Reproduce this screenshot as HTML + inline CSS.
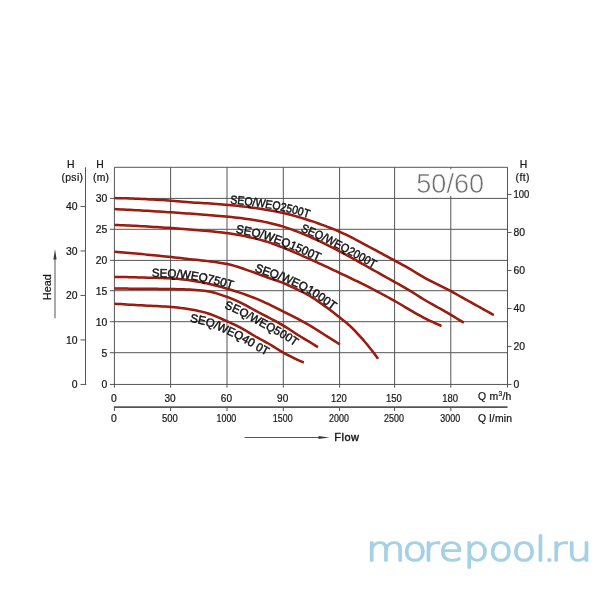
<!DOCTYPE html>
<html><head><meta charset="utf-8"><title>Pump curves 50/60</title>
<style>
html,body{margin:0;padding:0;background:#fff;}
body{width:600px;height:600px;overflow:hidden;}
svg{display:block;}
svg text{font-family:"Liberation Sans",sans-serif;}
svg text.wm{font-family:"DejaVu Sans Light","DejaVu Sans","Liberation Sans",sans-serif;font-weight:200;}
</style></head><body>
<svg width="600" height="600" viewBox="0 0 600 600">
<rect width="600" height="600" fill="#fff"/>
<g stroke="#555555" stroke-width="1" fill="none">
<line x1="114.40" y1="167.30" x2="114.40" y2="387.65"/>
<line x1="170.60" y1="167.30" x2="170.60" y2="387.65"/>
<line x1="227.00" y1="167.30" x2="227.00" y2="387.65"/>
<line x1="283.30" y1="167.30" x2="283.30" y2="387.65"/>
<line x1="339.60" y1="167.30" x2="339.60" y2="387.65"/>
<line x1="394.60" y1="167.30" x2="394.60" y2="387.65"/>
<line x1="450.80" y1="195.90" x2="450.80" y2="387.65"/>
<line x1="450.80" y1="167.30" x2="450.80" y2="169.30"/>
<line x1="507.50" y1="167.30" x2="507.50" y2="387.65"/>
<line x1="109.90" y1="384.45" x2="507.50" y2="384.45"/>
<line x1="109.90" y1="352.70" x2="507.50" y2="352.70"/>
<line x1="109.90" y1="321.70" x2="507.50" y2="321.70"/>
<line x1="109.90" y1="290.70" x2="507.50" y2="290.70"/>
<line x1="109.90" y1="260.40" x2="507.50" y2="260.40"/>
<line x1="109.90" y1="229.30" x2="507.50" y2="229.30"/>
<line x1="109.90" y1="198.40" x2="507.50" y2="198.40"/>
<line x1="114.40" y1="167.30" x2="507.50" y2="167.30"/>
<line x1="85.5" y1="167.3" x2="85.5" y2="384.45"/>
<line x1="80.5" y1="384.45" x2="86.3" y2="384.45"/>
<line x1="80.5" y1="339.95" x2="85.5" y2="339.95"/>
<line x1="80.5" y1="295.45" x2="85.5" y2="295.45"/>
<line x1="80.5" y1="250.95" x2="85.5" y2="250.95"/>
<line x1="80.5" y1="206.45" x2="85.5" y2="206.45"/>
<line x1="507.5" y1="384.45" x2="511.5" y2="384.45"/>
<line x1="507.5" y1="346.45" x2="511.5" y2="346.45"/>
<line x1="507.5" y1="308.45" x2="511.5" y2="308.45"/>
<line x1="507.5" y1="270.45" x2="511.5" y2="270.45"/>
<line x1="507.5" y1="232.45" x2="511.5" y2="232.45"/>
<line x1="507.5" y1="194.45" x2="511.5" y2="194.45"/>
<line x1="113.9" y1="407.1" x2="507.5" y2="407.1" stroke-width="1.7"/>
<line x1="114.40" y1="407.1" x2="114.40" y2="411.0"/>
<line x1="170.60" y1="407.1" x2="170.60" y2="411.0"/>
<line x1="227.00" y1="407.1" x2="227.00" y2="411.0"/>
<line x1="283.30" y1="407.1" x2="283.30" y2="411.0"/>
<line x1="339.60" y1="407.1" x2="339.60" y2="411.0"/>
<line x1="394.60" y1="407.1" x2="394.60" y2="411.0"/>
<line x1="450.80" y1="407.1" x2="450.80" y2="411.0"/>
<line x1="244.5" y1="437.5" x2="320" y2="437.5"/>
<line x1="55" y1="258" x2="55" y2="318.3"/>
</g>
<path d="M318.5,435.9 L329.5,437.5 L318.5,439.1 Z" fill="#3a3a3a"/>
<path d="M53.4,259.5 L55,249 L56.6,259.5 Z" fill="#3a3a3a"/>
<g stroke="#86150c" stroke-width="2.5" fill="none" stroke-linecap="butt" stroke-linejoin="round">
<path d="M114.5,198.10 L117.5,198.13 L120.5,198.18 L123.5,198.25 L126.5,198.33 L129.5,198.42 L132.5,198.52 L135.5,198.64 L138.5,198.77 L141.5,198.91 L144.5,199.06 L147.5,199.21 L150.5,199.38 L153.5,199.55 L156.5,199.72 L159.5,199.90 L162.5,200.09 L165.5,200.28 L168.5,200.47 L171.5,200.66 L174.5,200.91 L177.5,201.19 L180.5,201.49 L183.5,201.77 L186.5,202.02 L189.5,202.24 L192.5,202.45 L195.5,202.64 L198.5,202.83 L201.5,203.01 L204.5,203.19 L207.5,203.37 L210.5,203.56 L213.5,203.75 L216.5,203.95 L219.5,204.16 L222.5,204.38 L225.5,204.63 L228.5,204.89 L231.5,205.18 L234.5,205.48 L237.5,205.81 L240.5,206.15 L243.5,206.51 L246.5,206.88 L249.5,207.28 L252.5,207.68 L255.5,208.10 L258.5,208.53 L261.5,208.97 L264.5,209.45 L267.5,209.94 L270.5,210.47 L273.5,211.03 L276.5,211.61 L279.5,212.22 L282.5,212.87 L285.5,213.55 L288.5,214.28 L291.5,215.06 L294.5,215.88 L297.5,216.74 L300.5,217.62 L303.5,218.54 L306.5,219.48 L309.5,220.44 L312.5,221.42 L315.5,222.43 L318.5,223.48 L321.5,224.56 L324.5,225.67 L327.5,226.82 L330.5,228.00 L333.5,229.21 L336.5,230.46 L339.5,231.74 L342.5,233.08 L345.5,234.48 L348.5,235.95 L351.5,237.46 L354.5,239.00 L357.5,240.58 L360.5,242.18 L363.5,243.79 L366.5,245.40 L369.5,247.01 L372.5,248.60 L375.5,250.19 L378.5,251.79 L381.5,253.41 L384.5,255.04 L387.5,256.68 L390.5,258.32 L393.5,259.95 L396.5,261.58 L399.5,263.20 L402.5,264.82 L405.5,266.46 L408.5,268.14 L411.5,269.88 L414.5,271.73 L417.5,273.61 L420.5,275.44 L423.5,277.16 L426.5,278.78 L429.5,280.35 L432.5,281.87 L435.5,283.36 L438.5,284.84 L441.5,286.33 L444.5,287.82 L447.5,289.36 L450.5,290.94 L453.5,292.58 L456.5,294.28 L459.5,295.97 L462.5,297.64 L465.5,299.32 L468.5,300.99 L471.5,302.66 L474.5,304.33 L477.5,306.00 L480.5,307.66 L483.5,309.33 L486.5,310.99 L489.5,312.65 L492.5,314.31 L493.8,315.00" id="c2500"/>
<path d="M114.5,209.10 L117.5,209.24 L120.5,209.39 L123.5,209.54 L126.5,209.70 L129.5,209.86 L132.5,210.02 L135.5,210.18 L138.5,210.35 L141.5,210.52 L144.5,210.70 L147.5,210.87 L150.5,211.05 L153.5,211.23 L156.5,211.42 L159.5,211.60 L162.5,211.79 L165.5,211.98 L168.5,212.17 L171.5,212.36 L174.5,212.56 L177.5,212.76 L180.5,212.97 L183.5,213.19 L186.5,213.41 L189.5,213.62 L192.5,213.84 L195.5,214.05 L198.5,214.27 L201.5,214.48 L204.5,214.70 L207.5,214.93 L210.5,215.16 L213.5,215.40 L216.5,215.65 L219.5,215.90 L222.5,216.18 L225.5,216.46 L228.5,216.76 L231.5,217.08 L234.5,217.41 L237.5,217.75 L240.5,218.11 L243.5,218.50 L246.5,218.90 L249.5,219.32 L252.5,219.77 L255.5,220.24 L258.5,220.74 L261.5,221.27 L264.5,221.86 L267.5,222.50 L270.5,223.20 L273.5,223.94 L276.5,224.73 L279.5,225.56 L282.5,226.42 L285.5,227.34 L288.5,228.33 L291.5,229.39 L294.5,230.51 L297.5,231.68 L300.5,232.89 L303.5,234.14 L306.5,235.40 L309.5,236.69 L312.5,237.99 L315.5,239.34 L318.5,240.74 L321.5,242.18 L324.5,243.64 L327.5,245.14 L330.5,246.66 L333.5,248.20 L336.5,249.75 L339.5,251.30 L342.5,252.88 L345.5,254.48 L348.5,256.12 L351.5,257.78 L354.5,259.45 L357.5,261.14 L360.5,262.84 L363.5,264.53 L366.5,266.23 L369.5,267.92 L372.5,269.60 L375.5,271.27 L378.5,272.94 L381.5,274.62 L384.5,276.29 L387.5,277.97 L390.5,279.65 L393.5,281.34 L396.5,283.02 L399.5,284.69 L402.5,286.37 L405.5,288.07 L408.5,289.81 L411.5,291.61 L414.5,293.51 L417.5,295.45 L420.5,297.37 L423.5,299.20 L426.5,300.97 L429.5,302.71 L432.5,304.41 L435.5,306.10 L438.5,307.78 L441.5,309.46 L444.5,311.15 L447.5,312.87 L450.5,314.62 L453.5,316.41 L456.5,318.23 L459.5,320.07 L462.5,321.92 L463.8,322.70" id="c2000"/>
<path d="M114.5,225.00 L117.5,225.09 L120.5,225.20 L123.5,225.31 L126.5,225.44 L129.5,225.57 L132.5,225.71 L135.5,225.86 L138.5,226.01 L141.5,226.17 L144.5,226.34 L147.5,226.52 L150.5,226.69 L153.5,226.88 L156.5,227.07 L159.5,227.26 L162.5,227.46 L165.5,227.66 L168.5,227.86 L171.5,228.06 L174.5,228.29 L177.5,228.54 L180.5,228.80 L183.5,229.07 L186.5,229.33 L189.5,229.58 L192.5,229.83 L195.5,230.07 L198.5,230.31 L201.5,230.56 L204.5,230.81 L207.5,231.07 L210.5,231.33 L213.5,231.61 L216.5,231.91 L219.5,232.23 L222.5,232.56 L225.5,232.92 L228.5,233.31 L231.5,233.75 L234.5,234.22 L237.5,234.74 L240.5,235.29 L243.5,235.88 L246.5,236.51 L249.5,237.17 L252.5,237.86 L255.5,238.58 L258.5,239.32 L261.5,240.10 L264.5,240.96 L267.5,241.91 L270.5,242.92 L273.5,243.99 L276.5,245.10 L279.5,246.23 L282.5,247.37 L285.5,248.53 L288.5,249.74 L291.5,250.99 L294.5,252.28 L297.5,253.60 L300.5,254.93 L303.5,256.28 L306.5,257.63 L309.5,258.98 L312.5,260.32 L315.5,261.67 L318.5,263.04 L321.5,264.41 L324.5,265.80 L327.5,267.19 L330.5,268.60 L333.5,270.01 L336.5,271.42 L339.5,272.85 L342.5,274.27 L345.5,275.70 L348.5,277.14 L351.5,278.58 L354.5,280.03 L357.5,281.49 L360.5,282.96 L363.5,284.45 L366.5,285.95 L369.5,287.46 L372.5,289.00 L375.5,290.56 L378.5,292.15 L381.5,293.75 L384.5,295.38 L387.5,297.02 L390.5,298.68 L393.5,300.34 L396.5,302.03 L399.5,303.76 L402.5,305.52 L405.5,307.30 L408.5,309.09 L411.5,310.86 L414.5,312.60 L417.5,314.30 L420.5,315.95 L423.5,317.52 L426.5,319.03 L429.5,320.51 L432.5,321.95 L435.5,323.35 L438.5,324.72 L441.4,326.00" id="c1500"/>
<path d="M114.5,251.70 L117.5,251.95 L120.5,252.20 L123.5,252.46 L126.5,252.72 L129.5,252.98 L132.5,253.25 L135.5,253.53 L138.5,253.81 L141.5,254.09 L144.5,254.38 L147.5,254.67 L150.5,254.96 L153.5,255.26 L156.5,255.56 L159.5,255.86 L162.5,256.17 L165.5,256.47 L168.5,256.78 L171.5,257.09 L174.5,257.41 L177.5,257.74 L180.5,258.08 L183.5,258.42 L186.5,258.77 L189.5,259.12 L192.5,259.45 L195.5,259.77 L198.5,260.10 L201.5,260.43 L204.5,260.76 L207.5,261.12 L210.5,261.48 L213.5,261.87 L216.5,262.29 L219.5,262.74 L222.5,263.22 L225.5,263.74 L228.5,264.32 L231.5,265.03 L234.5,265.86 L237.5,266.77 L240.5,267.75 L243.5,268.77 L246.5,269.81 L249.5,270.83 L252.5,271.87 L255.5,272.97 L258.5,274.10 L261.5,275.26 L264.5,276.39 L267.5,277.49 L270.5,278.52 L273.5,279.52 L276.5,280.52 L279.5,281.57 L282.5,282.70 L285.5,283.98 L288.5,285.42 L291.5,286.85 L294.5,288.23 L297.5,289.62 L300.5,291.03 L303.5,292.50 L306.5,294.07 L309.5,295.77 L312.5,297.61 L315.5,299.58 L318.5,301.64 L321.5,303.75 L324.5,305.89 L327.5,308.06 L330.5,310.31 L333.5,312.61 L336.5,314.95 L339.5,317.30 L342.5,319.64 L345.5,322.04 L348.5,324.65 L351.5,327.46 L354.5,330.44 L357.5,333.56 L360.5,336.80 L363.5,340.19 L366.5,343.75 L369.5,347.44 L372.5,351.25 L375.5,355.26 L378.0,358.75" id="c1000"/>
<path d="M114.5,276.90 L117.5,276.95 L120.5,277.00 L123.5,277.06 L126.5,277.12 L129.5,277.19 L132.5,277.26 L135.5,277.33 L138.5,277.40 L141.5,277.47 L144.5,277.55 L147.5,277.63 L150.5,277.70 L153.5,277.78 L156.5,277.87 L159.5,277.96 L162.5,278.06 L165.5,278.18 L168.5,278.30 L171.5,278.45 L174.5,278.63 L177.5,278.86 L180.5,279.14 L183.5,279.44 L186.5,279.77 L189.5,280.18 L192.5,280.64 L195.5,281.15 L198.5,281.71 L201.5,282.29 L204.5,282.90 L207.5,283.53 L210.5,284.22 L213.5,284.95 L216.5,285.73 L219.5,286.54 L222.5,287.38 L225.5,288.24 L228.5,289.12 L231.5,290.02 L234.5,290.95 L237.5,291.91 L240.5,292.91 L243.5,293.93 L246.5,295.00 L249.5,296.09 L252.5,297.23 L255.5,298.40 L258.5,299.63 L261.5,300.94 L264.5,302.30 L267.5,303.72 L270.5,305.16 L273.5,306.64 L276.5,308.13 L279.5,309.63 L282.5,311.13 L285.5,312.62 L288.5,314.11 L291.5,315.61 L294.5,317.14 L297.5,318.69 L300.5,320.27 L303.5,321.89 L306.5,323.55 L309.5,325.27 L312.5,327.07 L315.5,328.94 L318.5,330.85 L321.5,332.77 L324.5,334.68 L327.5,336.58 L330.5,338.48 L333.5,340.39 L336.5,342.31 L339.5,344.24 L339.8,344.40" id="c750"/>
<path d="M114.5,288.50 L117.5,288.53 L120.5,288.55 L123.5,288.58 L126.5,288.61 L129.5,288.63 L132.5,288.66 L135.5,288.69 L138.5,288.71 L141.5,288.74 L144.5,288.77 L147.5,288.79 L150.5,288.81 L153.5,288.83 L156.5,288.86 L159.5,288.88 L162.5,288.91 L165.5,288.94 L168.5,288.97 L171.5,289.01 L174.5,289.07 L177.5,289.15 L180.5,289.24 L183.5,289.34 L186.5,289.46 L189.5,289.60 L192.5,289.76 L195.5,289.95 L198.5,290.18 L201.5,290.44 L204.5,290.75 L207.5,291.15 L210.5,291.74 L213.5,292.49 L216.5,293.37 L219.5,294.33 L222.5,295.35 L225.5,296.38 L228.5,297.43 L231.5,298.59 L234.5,299.87 L237.5,301.22 L240.5,302.64 L243.5,304.09 L246.5,305.67 L249.5,307.33 L252.5,309.02 L255.5,310.67 L258.5,312.27 L261.5,313.83 L264.5,315.39 L267.5,316.94 L270.5,318.50 L273.5,320.08 L276.5,321.70 L279.5,323.35 L282.5,325.07 L285.5,326.88 L288.5,328.79 L291.5,330.77 L294.5,332.75 L297.5,334.69 L300.5,336.54 L303.5,338.36 L306.5,340.15 L309.5,341.94 L312.5,343.75 L315.5,345.57 L318.0,347.10" id="c500"/>
<path d="M114.5,303.75 L117.5,303.93 L120.5,304.12 L123.5,304.30 L126.5,304.48 L129.5,304.65 L132.5,304.83 L135.5,305.00 L138.5,305.17 L141.5,305.34 L144.5,305.51 L147.5,305.66 L150.5,305.80 L153.5,305.94 L156.5,306.08 L159.5,306.23 L162.5,306.38 L165.5,306.56 L168.5,306.75 L171.5,306.97 L174.5,307.24 L177.5,307.55 L180.5,307.90 L183.5,308.29 L186.5,308.72 L189.5,309.19 L192.5,309.71 L195.5,310.29 L198.5,310.92 L201.5,311.62 L204.5,312.37 L207.5,313.22 L210.5,314.23 L213.5,315.37 L216.5,316.61 L219.5,317.91 L222.5,319.25 L225.5,320.59 L228.5,321.91 L231.5,323.28 L234.5,324.69 L237.5,326.16 L240.5,327.69 L243.5,329.30 L246.5,331.04 L249.5,332.88 L252.5,334.72 L255.5,336.48 L258.5,338.15 L261.5,339.76 L264.5,341.38 L267.5,343.04 L270.5,344.79 L273.5,346.65 L276.5,348.55 L279.5,350.43 L282.5,352.20 L285.5,353.82 L288.5,355.40 L291.5,356.92 L294.5,358.39 L297.5,359.79 L300.5,361.13 L303.5,362.40 L303.8,362.50" id="c400"/>
</g>
<g stroke="#b8200f" stroke-width="1.0" fill="none" stroke-linecap="butt" stroke-linejoin="round">
<path d="M114.5,198.10 L117.5,198.13 L120.5,198.18 L123.5,198.25 L126.5,198.33 L129.5,198.42 L132.5,198.52 L135.5,198.64 L138.5,198.77 L141.5,198.91 L144.5,199.06 L147.5,199.21 L150.5,199.38 L153.5,199.55 L156.5,199.72 L159.5,199.90 L162.5,200.09 L165.5,200.28 L168.5,200.47 L171.5,200.66 L174.5,200.91 L177.5,201.19 L180.5,201.49 L183.5,201.77 L186.5,202.02 L189.5,202.24 L192.5,202.45 L195.5,202.64 L198.5,202.83 L201.5,203.01 L204.5,203.19 L207.5,203.37 L210.5,203.56 L213.5,203.75 L216.5,203.95 L219.5,204.16 L222.5,204.38 L225.5,204.63 L228.5,204.89 L231.5,205.18 L234.5,205.48 L237.5,205.81 L240.5,206.15 L243.5,206.51 L246.5,206.88 L249.5,207.28 L252.5,207.68 L255.5,208.10 L258.5,208.53 L261.5,208.97 L264.5,209.45 L267.5,209.94 L270.5,210.47 L273.5,211.03 L276.5,211.61 L279.5,212.22 L282.5,212.87 L285.5,213.55 L288.5,214.28 L291.5,215.06 L294.5,215.88 L297.5,216.74 L300.5,217.62 L303.5,218.54 L306.5,219.48 L309.5,220.44 L312.5,221.42 L315.5,222.43 L318.5,223.48 L321.5,224.56 L324.5,225.67 L327.5,226.82 L330.5,228.00 L333.5,229.21 L336.5,230.46 L339.5,231.74 L342.5,233.08 L345.5,234.48 L348.5,235.95 L351.5,237.46 L354.5,239.00 L357.5,240.58 L360.5,242.18 L363.5,243.79 L366.5,245.40 L369.5,247.01 L372.5,248.60 L375.5,250.19 L378.5,251.79 L381.5,253.41 L384.5,255.04 L387.5,256.68 L390.5,258.32 L393.5,259.95 L396.5,261.58 L399.5,263.20 L402.5,264.82 L405.5,266.46 L408.5,268.14 L411.5,269.88 L414.5,271.73 L417.5,273.61 L420.5,275.44 L423.5,277.16 L426.5,278.78 L429.5,280.35 L432.5,281.87 L435.5,283.36 L438.5,284.84 L441.5,286.33 L444.5,287.82 L447.5,289.36 L450.5,290.94 L453.5,292.58 L456.5,294.28 L459.5,295.97 L462.5,297.64 L465.5,299.32 L468.5,300.99 L471.5,302.66 L474.5,304.33 L477.5,306.00 L480.5,307.66 L483.5,309.33 L486.5,310.99 L489.5,312.65 L492.5,314.31 L493.8,315.00"/>
<path d="M114.5,209.10 L117.5,209.24 L120.5,209.39 L123.5,209.54 L126.5,209.70 L129.5,209.86 L132.5,210.02 L135.5,210.18 L138.5,210.35 L141.5,210.52 L144.5,210.70 L147.5,210.87 L150.5,211.05 L153.5,211.23 L156.5,211.42 L159.5,211.60 L162.5,211.79 L165.5,211.98 L168.5,212.17 L171.5,212.36 L174.5,212.56 L177.5,212.76 L180.5,212.97 L183.5,213.19 L186.5,213.41 L189.5,213.62 L192.5,213.84 L195.5,214.05 L198.5,214.27 L201.5,214.48 L204.5,214.70 L207.5,214.93 L210.5,215.16 L213.5,215.40 L216.5,215.65 L219.5,215.90 L222.5,216.18 L225.5,216.46 L228.5,216.76 L231.5,217.08 L234.5,217.41 L237.5,217.75 L240.5,218.11 L243.5,218.50 L246.5,218.90 L249.5,219.32 L252.5,219.77 L255.5,220.24 L258.5,220.74 L261.5,221.27 L264.5,221.86 L267.5,222.50 L270.5,223.20 L273.5,223.94 L276.5,224.73 L279.5,225.56 L282.5,226.42 L285.5,227.34 L288.5,228.33 L291.5,229.39 L294.5,230.51 L297.5,231.68 L300.5,232.89 L303.5,234.14 L306.5,235.40 L309.5,236.69 L312.5,237.99 L315.5,239.34 L318.5,240.74 L321.5,242.18 L324.5,243.64 L327.5,245.14 L330.5,246.66 L333.5,248.20 L336.5,249.75 L339.5,251.30 L342.5,252.88 L345.5,254.48 L348.5,256.12 L351.5,257.78 L354.5,259.45 L357.5,261.14 L360.5,262.84 L363.5,264.53 L366.5,266.23 L369.5,267.92 L372.5,269.60 L375.5,271.27 L378.5,272.94 L381.5,274.62 L384.5,276.29 L387.5,277.97 L390.5,279.65 L393.5,281.34 L396.5,283.02 L399.5,284.69 L402.5,286.37 L405.5,288.07 L408.5,289.81 L411.5,291.61 L414.5,293.51 L417.5,295.45 L420.5,297.37 L423.5,299.20 L426.5,300.97 L429.5,302.71 L432.5,304.41 L435.5,306.10 L438.5,307.78 L441.5,309.46 L444.5,311.15 L447.5,312.87 L450.5,314.62 L453.5,316.41 L456.5,318.23 L459.5,320.07 L462.5,321.92 L463.8,322.70"/>
<path d="M114.5,225.00 L117.5,225.09 L120.5,225.20 L123.5,225.31 L126.5,225.44 L129.5,225.57 L132.5,225.71 L135.5,225.86 L138.5,226.01 L141.5,226.17 L144.5,226.34 L147.5,226.52 L150.5,226.69 L153.5,226.88 L156.5,227.07 L159.5,227.26 L162.5,227.46 L165.5,227.66 L168.5,227.86 L171.5,228.06 L174.5,228.29 L177.5,228.54 L180.5,228.80 L183.5,229.07 L186.5,229.33 L189.5,229.58 L192.5,229.83 L195.5,230.07 L198.5,230.31 L201.5,230.56 L204.5,230.81 L207.5,231.07 L210.5,231.33 L213.5,231.61 L216.5,231.91 L219.5,232.23 L222.5,232.56 L225.5,232.92 L228.5,233.31 L231.5,233.75 L234.5,234.22 L237.5,234.74 L240.5,235.29 L243.5,235.88 L246.5,236.51 L249.5,237.17 L252.5,237.86 L255.5,238.58 L258.5,239.32 L261.5,240.10 L264.5,240.96 L267.5,241.91 L270.5,242.92 L273.5,243.99 L276.5,245.10 L279.5,246.23 L282.5,247.37 L285.5,248.53 L288.5,249.74 L291.5,250.99 L294.5,252.28 L297.5,253.60 L300.5,254.93 L303.5,256.28 L306.5,257.63 L309.5,258.98 L312.5,260.32 L315.5,261.67 L318.5,263.04 L321.5,264.41 L324.5,265.80 L327.5,267.19 L330.5,268.60 L333.5,270.01 L336.5,271.42 L339.5,272.85 L342.5,274.27 L345.5,275.70 L348.5,277.14 L351.5,278.58 L354.5,280.03 L357.5,281.49 L360.5,282.96 L363.5,284.45 L366.5,285.95 L369.5,287.46 L372.5,289.00 L375.5,290.56 L378.5,292.15 L381.5,293.75 L384.5,295.38 L387.5,297.02 L390.5,298.68 L393.5,300.34 L396.5,302.03 L399.5,303.76 L402.5,305.52 L405.5,307.30 L408.5,309.09 L411.5,310.86 L414.5,312.60 L417.5,314.30 L420.5,315.95 L423.5,317.52 L426.5,319.03 L429.5,320.51 L432.5,321.95 L435.5,323.35 L438.5,324.72 L441.4,326.00"/>
<path d="M114.5,251.70 L117.5,251.95 L120.5,252.20 L123.5,252.46 L126.5,252.72 L129.5,252.98 L132.5,253.25 L135.5,253.53 L138.5,253.81 L141.5,254.09 L144.5,254.38 L147.5,254.67 L150.5,254.96 L153.5,255.26 L156.5,255.56 L159.5,255.86 L162.5,256.17 L165.5,256.47 L168.5,256.78 L171.5,257.09 L174.5,257.41 L177.5,257.74 L180.5,258.08 L183.5,258.42 L186.5,258.77 L189.5,259.12 L192.5,259.45 L195.5,259.77 L198.5,260.10 L201.5,260.43 L204.5,260.76 L207.5,261.12 L210.5,261.48 L213.5,261.87 L216.5,262.29 L219.5,262.74 L222.5,263.22 L225.5,263.74 L228.5,264.32 L231.5,265.03 L234.5,265.86 L237.5,266.77 L240.5,267.75 L243.5,268.77 L246.5,269.81 L249.5,270.83 L252.5,271.87 L255.5,272.97 L258.5,274.10 L261.5,275.26 L264.5,276.39 L267.5,277.49 L270.5,278.52 L273.5,279.52 L276.5,280.52 L279.5,281.57 L282.5,282.70 L285.5,283.98 L288.5,285.42 L291.5,286.85 L294.5,288.23 L297.5,289.62 L300.5,291.03 L303.5,292.50 L306.5,294.07 L309.5,295.77 L312.5,297.61 L315.5,299.58 L318.5,301.64 L321.5,303.75 L324.5,305.89 L327.5,308.06 L330.5,310.31 L333.5,312.61 L336.5,314.95 L339.5,317.30 L342.5,319.64 L345.5,322.04 L348.5,324.65 L351.5,327.46 L354.5,330.44 L357.5,333.56 L360.5,336.80 L363.5,340.19 L366.5,343.75 L369.5,347.44 L372.5,351.25 L375.5,355.26 L378.0,358.75"/>
<path d="M114.5,276.90 L117.5,276.95 L120.5,277.00 L123.5,277.06 L126.5,277.12 L129.5,277.19 L132.5,277.26 L135.5,277.33 L138.5,277.40 L141.5,277.47 L144.5,277.55 L147.5,277.63 L150.5,277.70 L153.5,277.78 L156.5,277.87 L159.5,277.96 L162.5,278.06 L165.5,278.18 L168.5,278.30 L171.5,278.45 L174.5,278.63 L177.5,278.86 L180.5,279.14 L183.5,279.44 L186.5,279.77 L189.5,280.18 L192.5,280.64 L195.5,281.15 L198.5,281.71 L201.5,282.29 L204.5,282.90 L207.5,283.53 L210.5,284.22 L213.5,284.95 L216.5,285.73 L219.5,286.54 L222.5,287.38 L225.5,288.24 L228.5,289.12 L231.5,290.02 L234.5,290.95 L237.5,291.91 L240.5,292.91 L243.5,293.93 L246.5,295.00 L249.5,296.09 L252.5,297.23 L255.5,298.40 L258.5,299.63 L261.5,300.94 L264.5,302.30 L267.5,303.72 L270.5,305.16 L273.5,306.64 L276.5,308.13 L279.5,309.63 L282.5,311.13 L285.5,312.62 L288.5,314.11 L291.5,315.61 L294.5,317.14 L297.5,318.69 L300.5,320.27 L303.5,321.89 L306.5,323.55 L309.5,325.27 L312.5,327.07 L315.5,328.94 L318.5,330.85 L321.5,332.77 L324.5,334.68 L327.5,336.58 L330.5,338.48 L333.5,340.39 L336.5,342.31 L339.5,344.24 L339.8,344.40"/>
<path d="M114.5,288.50 L117.5,288.53 L120.5,288.55 L123.5,288.58 L126.5,288.61 L129.5,288.63 L132.5,288.66 L135.5,288.69 L138.5,288.71 L141.5,288.74 L144.5,288.77 L147.5,288.79 L150.5,288.81 L153.5,288.83 L156.5,288.86 L159.5,288.88 L162.5,288.91 L165.5,288.94 L168.5,288.97 L171.5,289.01 L174.5,289.07 L177.5,289.15 L180.5,289.24 L183.5,289.34 L186.5,289.46 L189.5,289.60 L192.5,289.76 L195.5,289.95 L198.5,290.18 L201.5,290.44 L204.5,290.75 L207.5,291.15 L210.5,291.74 L213.5,292.49 L216.5,293.37 L219.5,294.33 L222.5,295.35 L225.5,296.38 L228.5,297.43 L231.5,298.59 L234.5,299.87 L237.5,301.22 L240.5,302.64 L243.5,304.09 L246.5,305.67 L249.5,307.33 L252.5,309.02 L255.5,310.67 L258.5,312.27 L261.5,313.83 L264.5,315.39 L267.5,316.94 L270.5,318.50 L273.5,320.08 L276.5,321.70 L279.5,323.35 L282.5,325.07 L285.5,326.88 L288.5,328.79 L291.5,330.77 L294.5,332.75 L297.5,334.69 L300.5,336.54 L303.5,338.36 L306.5,340.15 L309.5,341.94 L312.5,343.75 L315.5,345.57 L318.0,347.10"/>
<path d="M114.5,303.75 L117.5,303.93 L120.5,304.12 L123.5,304.30 L126.5,304.48 L129.5,304.65 L132.5,304.83 L135.5,305.00 L138.5,305.17 L141.5,305.34 L144.5,305.51 L147.5,305.66 L150.5,305.80 L153.5,305.94 L156.5,306.08 L159.5,306.23 L162.5,306.38 L165.5,306.56 L168.5,306.75 L171.5,306.97 L174.5,307.24 L177.5,307.55 L180.5,307.90 L183.5,308.29 L186.5,308.72 L189.5,309.19 L192.5,309.71 L195.5,310.29 L198.5,310.92 L201.5,311.62 L204.5,312.37 L207.5,313.22 L210.5,314.23 L213.5,315.37 L216.5,316.61 L219.5,317.91 L222.5,319.25 L225.5,320.59 L228.5,321.91 L231.5,323.28 L234.5,324.69 L237.5,326.16 L240.5,327.69 L243.5,329.30 L246.5,331.04 L249.5,332.88 L252.5,334.72 L255.5,336.48 L258.5,338.15 L261.5,339.76 L264.5,341.38 L267.5,343.04 L270.5,344.79 L273.5,346.65 L276.5,348.55 L279.5,350.43 L282.5,352.20 L285.5,353.82 L288.5,355.40 L291.5,356.92 L294.5,358.39 L297.5,359.79 L300.5,361.13 L303.5,362.40 L303.8,362.50"/>
</g>
<g fill="#111" stroke="#111" stroke-width="0.45" font-size="11.8">
<path id="l2500" d="M224.0,202.94 L226.0,203.09 L228.0,203.26 L230.0,203.43 L232.0,203.62 L234.0,203.81 L236.0,204.01 L238.0,204.22 L240.0,204.44 L242.0,204.67 L244.0,204.90 L246.0,205.14 L248.0,205.39 L250.0,205.64 L252.0,205.90 L254.0,206.17 L256.0,206.44 L258.0,206.71 L260.0,207.00 L262.0,207.29 L264.0,207.59 L266.0,207.91 L268.0,208.24 L270.0,208.58 L272.0,208.93 L274.0,209.30 L276.0,209.68 L278.0,210.07 L280.0,210.47 L282.0,210.89 L284.0,211.33 L286.0,211.78 L288.0,212.26 L290.0,212.76 L292.0,213.28 L294.0,213.81 L296.0,214.37 L298.0,214.94 L300.0,215.52 L302.0,216.11 L304.0,216.72 L306.0,217.34 L308.0,217.96 L310.0,218.59 L312.0,219.24 L314.0,219.89 L316.0,220.57 L318.0,221.25" fill="none" stroke="none"/>
<text><textPath href="#l2500" startOffset="6.0" textLength="80.2" lengthAdjust="spacingAndGlyphs">SEQ/WEQ2500T</textPath></text>
<path id="l2000" d="M294.3,228.86 L296.3,229.63 L298.3,230.41 L300.3,231.21 L302.3,232.02 L304.3,232.85 L306.3,233.69 L308.3,234.53 L310.3,235.37 L312.3,236.24 L314.3,237.12 L316.3,238.02 L318.3,238.95 L320.3,239.89 L322.3,240.84 L324.3,241.82 L326.3,242.80 L328.3,243.79 L330.3,244.80 L332.3,245.81 L334.3,246.83 L336.3,247.85 L338.3,248.87 L340.3,249.90 L342.3,250.94 L344.3,252.00 L346.3,253.07 L348.3,254.15 L350.3,255.24 L352.3,256.34 L354.3,257.45 L356.3,258.56 L358.3,259.68 L360.3,260.80 L362.3,261.92 L364.3,263.04 L366.3,264.16 L368.3,265.28 L370.3,266.39 L372.3,267.50 L374.3,268.60 L376.3,269.70 L378.3,270.81 L380.3,271.91 L382.3,273.02" fill="none" stroke="none"/>
<text><textPath href="#l2000" startOffset="6.4" textLength="82.6" lengthAdjust="spacingAndGlyphs">SEQ/WEQ2000T</textPath></text>
<path id="l1500" d="M229.4,231.87 L231.4,232.15 L233.4,232.45 L235.4,232.77 L237.4,233.11 L239.4,233.47 L241.4,233.84 L243.4,234.23 L245.4,234.63 L247.4,235.05 L249.4,235.48 L251.4,235.93 L253.4,236.38 L255.4,236.86 L257.4,237.34 L259.4,237.83 L261.4,238.34 L263.4,238.90 L265.4,239.49 L267.4,240.12 L269.4,240.78 L271.4,241.47 L273.4,242.17 L275.4,242.90 L277.4,243.63 L279.4,244.38 L281.4,245.13 L283.4,245.88 L285.4,246.65 L287.4,247.44 L289.4,248.25 L291.4,249.08 L293.4,249.93 L295.4,250.79 L297.4,251.66 L299.4,252.54 L301.4,253.42 L303.4,254.31 L305.4,255.20 L307.4,256.09 L309.4,256.98 L311.4,257.86 L313.4,258.75 L315.4,259.64 L317.4,260.54 L319.4,261.45 L321.4,262.36 L323.4,263.27 L325.4,264.19 L327.4,265.11" fill="none" stroke="none"/>
<text><textPath href="#l1500" startOffset="6.1" textLength="88.4" lengthAdjust="spacingAndGlyphs">SEQ/WEQ1500T</textPath></text>
<path id="l1000" d="M248.3,268.85 L250.3,269.52 L252.3,270.21 L254.3,270.92 L256.3,271.66 L258.3,272.41 L260.3,273.16 L262.3,273.92 L264.3,274.67 L266.3,275.39 L268.3,276.10 L270.3,276.77 L272.3,277.43 L274.3,278.08 L276.3,278.74 L278.3,279.42 L280.3,280.13 L282.3,280.88 L284.3,281.69 L286.3,282.59 L288.3,283.55 L290.3,284.50 L292.3,285.43 L294.3,286.34 L296.3,287.25 L298.3,288.17 L300.3,289.10 L302.3,290.06 L304.3,291.06 L306.3,292.10 L308.3,293.20 L310.3,294.36 L312.3,295.59 L314.3,296.88 L316.3,298.21 L318.3,299.57 L320.3,300.97 L322.3,302.38 L324.3,303.79 L326.3,305.22 L328.3,306.68 L330.3,308.17 L332.3,309.69 L334.3,311.22 L336.3,312.77 L338.3,314.33 L340.3,315.89 L342.3,317.44" fill="none" stroke="none"/>
<text><textPath href="#l1000" startOffset="6.3" textLength="88.5" lengthAdjust="spacingAndGlyphs">SEQ/WEQ1000T</textPath></text>
<path id="l750" d="M145.7,276.60 L147.7,276.64 L149.7,276.69 L151.7,276.73 L153.7,276.78 L155.7,276.83 L157.7,276.89 L159.7,276.95 L161.7,277.01 L163.7,277.08 L165.7,277.15 L167.7,277.23 L169.7,277.31 L171.7,277.41 L173.7,277.52 L175.7,277.66 L177.7,277.82 L179.7,277.99 L181.7,278.18 L183.7,278.38 L185.7,278.59 L187.7,278.84 L189.7,279.11 L191.7,279.41 L193.7,279.73 L195.7,280.08 L197.7,280.44 L199.7,280.82 L201.7,281.21 L203.7,281.61 L205.7,282.01 L207.7,282.44 L209.7,282.89 L211.7,283.36 L213.7,283.85 L215.7,284.36 L217.7,284.89 L219.7,285.43 L221.7,285.98 L223.7,286.54 L225.7,287.11 L227.7,287.69 L229.7,288.28 L231.7,288.88 L233.7,289.50 L235.7,290.12 L237.7,290.77 L239.7,291.42 L241.7,292.09" fill="none" stroke="none"/>
<text><textPath href="#l750" startOffset="6.0" textLength="81.9" lengthAdjust="spacingAndGlyphs">SEQ/WEQ750T</textPath></text>
<path id="l500" d="M218.0,306.26 L220.0,306.94 L222.0,307.65 L224.0,308.36 L226.0,309.08 L228.0,309.80 L230.0,310.57 L232.0,311.40 L234.0,312.27 L236.0,313.19 L238.0,314.13 L240.0,315.10 L242.0,316.09 L244.0,317.10 L246.0,318.18 L248.0,319.30 L250.0,320.44 L252.0,321.60 L254.0,322.74 L256.0,323.84 L258.0,324.93 L260.0,326.01 L262.0,327.08 L264.0,328.14 L266.0,329.20 L268.0,330.26 L270.0,331.32 L272.0,332.40 L274.0,333.48 L276.0,334.58 L278.0,335.70 L280.0,336.85 L282.0,338.02 L284.0,339.22 L286.0,340.47 L288.0,341.78 L290.0,343.11 L292.0,344.46 L294.0,345.81 L296.0,347.14 L298.0,348.44 L300.0,349.70 L302.0,350.94 L304.0,352.17" fill="none" stroke="none"/>
<text><textPath href="#l500" startOffset="6.4" textLength="80.7" lengthAdjust="spacingAndGlyphs">SEQ/WEQ500T</textPath></text>
<path id="l400" d="M183.6,320.86 L185.6,321.15 L187.6,321.47 L189.6,321.81 L191.6,322.17 L193.6,322.55 L195.6,322.96 L197.6,323.39 L199.6,323.85 L201.6,324.33 L203.6,324.85 L205.6,325.39 L207.6,325.99 L209.6,326.67 L211.6,327.41 L213.6,328.20 L215.6,329.03 L217.6,329.90 L219.6,330.79 L221.6,331.69 L223.6,332.60 L225.6,333.51 L227.6,334.41 L229.6,335.32 L231.6,336.25 L233.6,337.21 L235.6,338.18 L237.6,339.19 L239.6,340.22 L241.6,341.28 L243.6,342.37 L245.6,343.54 L247.6,344.76 L249.6,346.01 L251.6,347.26 L253.6,348.48 L255.6,349.66 L257.6,350.79 L259.6,351.89 L261.6,352.98 L263.6,354.07 L265.6,355.17 L267.6,356.30 L269.6,357.47 L271.6,358.70 L273.6,359.97 L275.6,361.25" fill="none" stroke="none"/>
<text><textPath href="#l400" startOffset="6.1" textLength="84.6" lengthAdjust="spacingAndGlyphs">SEQ/WEQ40 0T</textPath></text>
</g>
<g fill="#161616" font-size="10.4" stroke="#161616" stroke-width="0.22">
<text x="107.3" y="388.25" text-anchor="end">0</text>
<text x="107.3" y="356.50" text-anchor="end">5</text>
<text x="107.3" y="325.50" text-anchor="end">10</text>
<text x="107.3" y="294.50" text-anchor="end">15</text>
<text x="107.3" y="264.20" text-anchor="end">20</text>
<text x="107.3" y="233.10" text-anchor="end">25</text>
<text x="107.3" y="202.20" text-anchor="end">30</text>
<text x="77.6" y="388.25" text-anchor="end">0</text>
<text x="77.6" y="343.75" text-anchor="end">10</text>
<text x="77.6" y="299.25" text-anchor="end">20</text>
<text x="77.6" y="254.75" text-anchor="end">30</text>
<text x="77.6" y="210.25" text-anchor="end">40</text>
<text x="513.6" y="388.25">0</text>
<text x="513.6" y="350.25">20</text>
<text x="513.6" y="312.25">40</text>
<text x="513.6" y="274.25">60</text>
<text x="513.6" y="236.25">80</text>
<text x="513.6" y="198.25" textLength="15.8" lengthAdjust="spacingAndGlyphs">100</text>
<text x="113.80" y="402.2" text-anchor="middle">0</text>
<text x="113.80" y="422.2" text-anchor="middle">0</text>
<text x="170.00" y="402.2" text-anchor="middle" textLength="11.2" lengthAdjust="spacingAndGlyphs">30</text>
<text x="170.00" y="422.2" text-anchor="middle" textLength="15.8" lengthAdjust="spacingAndGlyphs">500</text>
<text x="226.40" y="402.2" text-anchor="middle" textLength="11.2" lengthAdjust="spacingAndGlyphs">60</text>
<text x="226.40" y="422.2" text-anchor="middle" textLength="19.8" lengthAdjust="spacingAndGlyphs">1000</text>
<text x="282.70" y="402.2" text-anchor="middle" textLength="11.2" lengthAdjust="spacingAndGlyphs">90</text>
<text x="282.70" y="422.2" text-anchor="middle" textLength="19.8" lengthAdjust="spacingAndGlyphs">1500</text>
<text x="339.00" y="402.2" text-anchor="middle" textLength="15.8" lengthAdjust="spacingAndGlyphs">120</text>
<text x="339.00" y="422.2" text-anchor="middle" textLength="19.8" lengthAdjust="spacingAndGlyphs">2000</text>
<text x="394.00" y="402.2" text-anchor="middle" textLength="15.8" lengthAdjust="spacingAndGlyphs">150</text>
<text x="394.00" y="422.2" text-anchor="middle" textLength="19.8" lengthAdjust="spacingAndGlyphs">2500</text>
<text x="450.20" y="402.2" text-anchor="middle" textLength="15.8" lengthAdjust="spacingAndGlyphs">180</text>
<text x="450.20" y="422.2" text-anchor="middle" textLength="19.8" lengthAdjust="spacingAndGlyphs">3000</text>
<text x="70.8" y="168.2" text-anchor="middle">H</text>
<text x="72.2" y="181" text-anchor="middle" textLength="21.6" lengthAdjust="spacing">(psi)</text>
<text x="100" y="168.2" text-anchor="middle">H</text>
<text x="101" y="181" text-anchor="middle" textLength="15.8" lengthAdjust="spacing">(m)</text>
<text x="523.5" y="168.2" text-anchor="middle">H</text>
<text x="522.5" y="181" text-anchor="middle" textLength="13.8" lengthAdjust="spacing">(ft)</text>
<text x="478" y="399.5" textLength="33.4" lengthAdjust="spacing">Q m<tspan font-size="6.5" dy="-4">3</tspan><tspan dy="4">/h</tspan></text>
<text x="478" y="422.4" textLength="34" lengthAdjust="spacing">Q l/min</text>
<text x="334.3" y="441.4" font-size="11" stroke-width="0.4" textLength="24.6" lengthAdjust="spacing">Flow</text>
<text x="50.6" y="287.2" font-size="10.8" text-anchor="middle" textLength="26" lengthAdjust="spacing" transform="rotate(-90 50.6 287.2)">Head</text>
</g>
<text x="416.3" y="192.9" font-size="28.4" fill="#707070" stroke="#fff" stroke-width="0.55" textLength="67.8" lengthAdjust="spacingAndGlyphs">50/60</text>
<text class="wm" font-size="34.3" fill="#a6d1e5" stroke="#a6d1e5" stroke-width="1.55" stroke-linejoin="round" transform="translate(0 560.6) scale(1.17 1)" x="313.09 343.96 361.52 375.07 396.42 417.61 437.38 457.18 464.13 470.71 484.10" y="0">morepool.ru</text>
</svg>
</body></html>
